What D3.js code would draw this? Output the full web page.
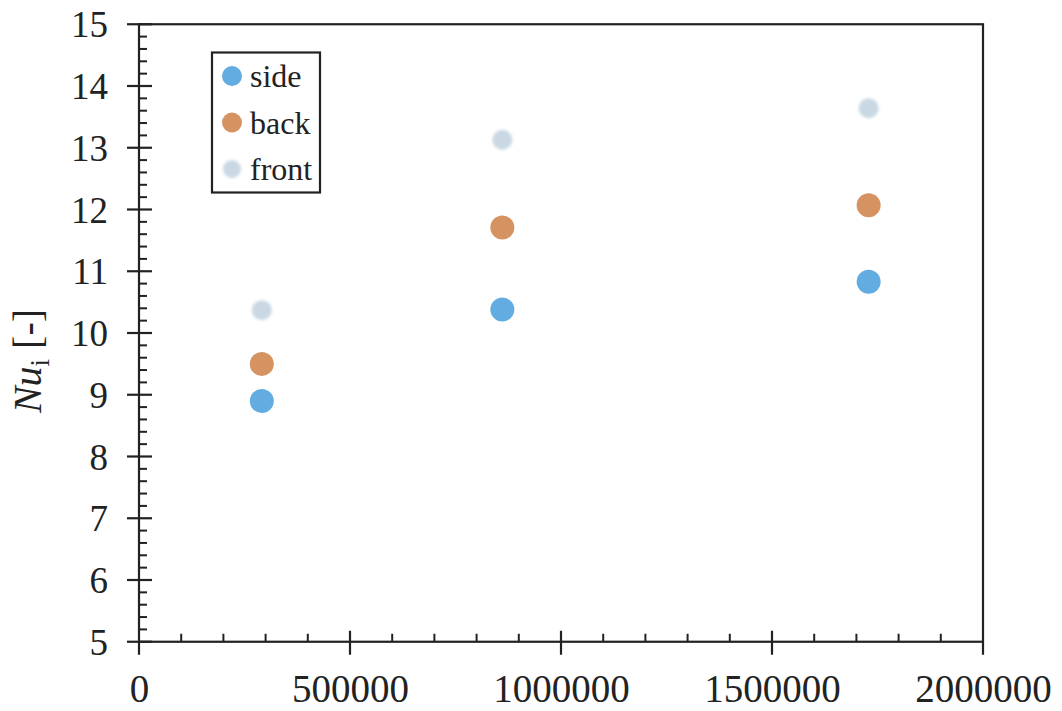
<!DOCTYPE html>
<html>
<head>
<meta charset="utf-8">
<script src="https://cdn.jsdelivr.net/npm/d3@7"></script>
<style>
  html, body { margin: 0; padding: 0; background: #fff; }
  svg { display: block; }
  text { font-family: "Liberation Serif", "Times New Roman", serif; fill: #222; }
</style>
</head>
<body>
<svg id="chart" width="1062" height="711"></svg>
<script>
// Local Nusselt number per face, at three flow conditions
const xValues = [291000, 861000, 1729000];
const sideValues = [8.90, 10.38, 10.83];
const backValues = [9.50, 11.71, 12.07];
const frontValues = [10.37, 13.13, 13.64];

const seriesNames = ["side", "back", "front"];
const seriesColors = ["#62ace2", "#d69362", "#c9d8e3"];

const xTicks = [0, 500000, 1000000, 1500000, 2000000];
const yTicks = [5, 6, 7, 8, 9, 10, 11, 12, 13, 14, 15];

const svg = d3.select("#chart");

const x = d3.scaleLinear().domain([0, 2000000]).range([139, 983]);
const y = d3.scaleLinear().domain([5, 15]).range([641.75, 24.25]);

const ink = "#222";

// soft edge for the pale "front" markers
const defs = svg.append("defs");
defs.append("filter").attr("id", "soft")
  .attr("x", "-50%").attr("y", "-50%").attr("width", "200%").attr("height", "200%")
  .append("feGaussianBlur").attr("stdDeviation", 1.4);

// frame
svg.append("rect")
  .attr("x", x(0)).attr("y", y(15))
  .attr("width", x(2000000) - x(0)).attr("height", y(5) - y(15))
  .attr("fill", "none").attr("stroke", ink).attr("stroke-width", 2.2);

// y minor ticks every 0.2 (inside)
const yMinor = d3.range(25, 75).map(d => d / 5).filter(d => Math.abs(d - Math.round(d)) > 1e-6);
svg.append("g").selectAll("line").data(yMinor).join("line")
  .attr("x1", x(0)).attr("x2", x(0) + 8)
  .attr("y1", d => y(d)).attr("y2", d => y(d))
  .attr("stroke", ink).attr("stroke-width", 2);

// y major ticks (crossing)
svg.append("g").selectAll("line").data(yTicks).join("line")
  .attr("x1", x(0) - 12).attr("x2", x(0) + 13)
  .attr("y1", d => y(d)).attr("y2", d => y(d))
  .attr("stroke", ink).attr("stroke-width", 2.2);

// x minor ticks every 100000 (inside)
const xMinor = d3.range(1, 20).map(d => d * 100000).filter(d => d % 500000 !== 0);
svg.append("g").selectAll("line").data(xMinor).join("line")
  .attr("x1", d => x(d)).attr("x2", d => x(d))
  .attr("y1", y(5)).attr("y2", y(5) - 8)
  .attr("stroke", ink).attr("stroke-width", 2);

// x major ticks (crossing; only below at the ends)
svg.append("g").selectAll("line").data(xTicks).join("line")
  .attr("x1", d => x(d)).attr("x2", d => x(d))
  .attr("y1", d => (d === 0 || d === 2000000) ? y(5) : y(5) - 11)
  .attr("y2", y(5) + 13)
  .attr("stroke", ink).attr("stroke-width", 2.2);

// tick labels via d3 axes
const yAxis = svg.append("g")
  .attr("transform", `translate(${x(0)},0)`)
  .call(d3.axisLeft(y).tickValues(yTicks).tickSize(0).tickPadding(31).tickFormat(d3.format("d")));
yAxis.select(".domain").remove();
yAxis.selectAll("text")
  .attr("font-size", 37)
  .attr("fill", ink)
  .attr("dy", "0.34em");

const xAxis = svg.append("g")
  .attr("transform", `translate(0,${y(5)})`)
  .call(d3.axisBottom(x).tickValues(xTicks).tickSize(0).tickPadding(0).tickFormat(d3.format("d")));
xAxis.select(".domain").remove();
xAxis.selectAll("text")
  .attr("font-size", 39)
  .attr("fill", ink)
  .attr("y", 60)
  .attr("dy", 0);

// y axis title: Nu_i [-]
const yTitle = svg.append("text")
  .attr("transform", "translate(41,361) rotate(-90)")
  .attr("text-anchor", "middle")
  .attr("font-size", 40)
  .attr("fill", ink);
yTitle.append("tspan").attr("font-style", "italic").text("Nu");
yTitle.append("tspan").attr("font-size", 27).attr("dy", 8).text("i");
yTitle.append("tspan").attr("dy", -8).text(" [-]");

// data points
const allSeries = [
  { name: "side", values: sideValues, color: seriesColors[0] },
  { name: "back", values: backValues, color: seriesColors[1] },
  { name: "front", values: frontValues, color: seriesColors[2] }
];

allSeries.forEach(s => {
  const soft = s.name === "front";
  svg.append("g").selectAll("circle").data(s.values).join("circle")
    .attr("cx", (d, i) => x(xValues[i]))
    .attr("cy", d => y(d))
    .attr("r", soft ? 10 : 12)
    .attr("fill", s.color)
    .attr("filter", soft ? "url(#soft)" : null);
});

// legend
const legend = svg.append("g");
legend.append("rect")
  .attr("x", 212).attr("y", 52.5).attr("width", 108).attr("height", 140)
  .attr("fill", "#fff").attr("stroke", ink).attr("stroke-width", 2.2);
const rows = legend.selectAll("g.row").data(allSeries).join("g")
  .attr("class", "row")
  .attr("transform", (d, i) => `translate(232,${76 + i * 46.5})`);
rows.append("circle")
  .attr("r", d => d.name === "front" ? 9 : 10)
  .attr("fill", d => d.color)
  .attr("filter", d => d.name === "front" ? "url(#soft)" : null);
rows.append("text")
  .attr("x", 18).attr("y", 11)
  .attr("font-size", 32)
  .attr("fill", "#111")
  .text(d => d.name);
</script>
</body>
</html>
